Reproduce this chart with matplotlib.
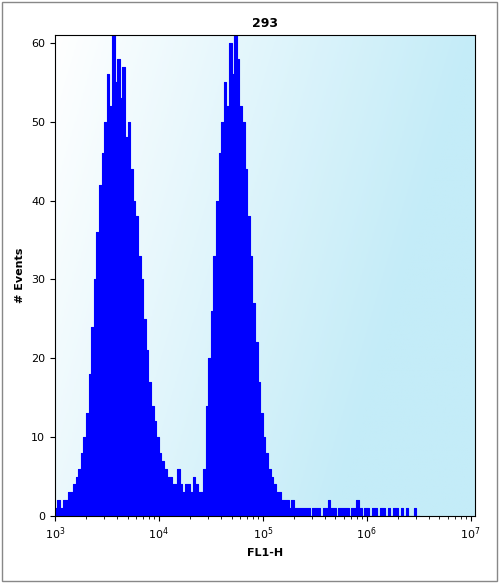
import numpy as np
import matplotlib
matplotlib.use("Agg")
import matplotlib.pyplot as plt
from matplotlib.colors import LinearSegmentedColormap

# histogram: left edge of first bin (log10), bin width (log10), counts
bin_start = 3.0
bin_width = 0.025
counts = [
    1, 2, 1, 2, 2, 3, 3, 4, 5, 6, 8,
    10, 13, 18, 24, 30, 36, 42, 46,
    50, 56, 52, 61, 55, 58, 53, 57,
    48, 50, 44, 40, 38, 33, 30, 25,
    21, 17, 14, 12, 10, 8, 7, 6,
    5, 5, 4, 4, 6, 4, 3, 4,
    4, 3, 5, 4, 3,
    3, 6, 14, 20, 26, 33, 40, 46,
    50, 55, 52, 60, 56, 66, 58, 52,
    50, 44, 38, 33, 27, 22, 17, 13,
    10, 8, 6, 5, 4, 3, 3, 2,
    2, 2, 1, 2, 1, 1, 1, 1,
    1, 1, 0, 1, 1, 1, 0, 1, 1, 2, 1, 1,
    0, 1, 1, 1, 1, 0, 1, 1, 2, 1, 0, 1,
    1, 0, 1, 1, 0, 1, 1, 0, 1, 0, 1, 1,
    0, 1, 0, 1, 0, 0, 1, 0,
]
title = "293"
x_label = "FL1-H"
y_label = "# Events"

edges = 10 ** (bin_start + bin_width * np.arange(len(counts) + 1))
vals = np.append(counts, counts[-1])

fig = plt.figure(figsize=(4.99, 5.83), dpi=100)
ax = fig.add_axes([0.110, 0.115, 0.842, 0.825])

cmap = LinearSegmentedColormap.from_list("bg", ["#ffffff", "#c4ecf8"])
gx, gy = np.meshgrid(np.linspace(0, 1, 200), np.linspace(0, 1, 200))
grad = np.clip((gx * 1.2 + gy * 0.4) / 1.2, 0, 1)
ax.imshow(grad, extent=[0, 1, 0, 1], transform=ax.transAxes, cmap=cmap,
          aspect="auto", zorder=0, origin="upper")

ax.fill_between(edges, vals, step="post", color="#0000ff", lw=0, zorder=2)
ax.step(edges, vals, where="post", color="#0000ff", lw=0.8, zorder=2)

ax.set_xscale("log")
ax.set_xlim(1e3, 1.1e7)
ax.set_ylim(0, 61)
ax.set_yticks(range(0, 61, 10))
ax.tick_params(labelsize=8)
ax.set_title(title, fontsize=9, fontweight="bold")
ax.set_xlabel(x_label, fontsize=8, fontweight="bold")
ax.set_ylabel(y_label, fontsize=8, fontweight="bold")

fig.patches.append(plt.Rectangle((0.004, 0.004), 0.992, 0.992, transform=fig.transFigure,
                                 fill=False, ec="#888888", lw=1))
fig.savefig("out.png", dpi=100)
